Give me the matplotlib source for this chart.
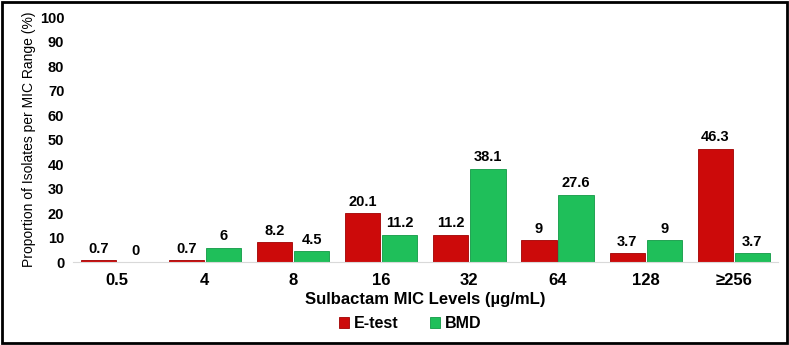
import matplotlib
matplotlib.use("Agg")
from matplotlib import pyplot as plt
from matplotlib.patches import Rectangle
import numpy as np

plt.rcParams['font.family'] = ['Liberation Sans', 'DejaVu Sans']

# MIC levels and percentages
mic_levels = ["0.5", "4", "8", "16", "32", "64", "128", "\u2265256"]
etest = [0.7, 0.7, 8.2, 20.1, 11.2, 9, 3.7, 46.3]
bmd = [0, 6, 4.5, 11.2, 38.1, 27.6, 9, 3.7]
etest_labels = ["0.7", "0.7", "8.2", "20.1", "11.2", "9", "3.7", "46.3"]
bmd_labels = ["0", "6", "4.5", "11.2", "38.1", "27.6", "9", "3.7"]

fig = plt.figure(figsize=(7.89, 3.45), dpi=100)
ax = fig.add_axes([0.092, 0.24, 0.894, 0.71])

x = np.arange(len(mic_levels))
w = 0.4
red = "#cc0a0a"
green = "#1fbf5a"
b1 = ax.bar(x - w/2 - 0.01, etest, w, color=red, edgecolor="#a00000", linewidth=0.6, label="E-test")
b2 = ax.bar(x + w/2 + 0.01, bmd, w, color=green, edgecolor="#119944", linewidth=0.6, label="BMD")

for bars, labs in ((b1, etest_labels), (b2, bmd_labels)):
    for b, t in zip(bars, labs):
        ax.text(b.get_x() + b.get_width()/2, b.get_height() + 1.8, t,
                ha="center", va="bottom", fontsize=10.5, fontweight="bold")

ax.set_ylim(0, 100)
ax.set_xlim(-0.5, len(mic_levels) - 0.5)
ax.set_yticks(range(0, 101, 10))
ax.set_xticks(x)
ax.set_xticklabels(mic_levels)
ax.tick_params(axis="y", length=0, labelsize=10.5, pad=6)
ax.tick_params(axis="x", length=0, labelsize=12, pad=8)
for lab in ax.get_xticklabels() + ax.get_yticklabels():
    lab.set_fontweight("bold")
for s in ("top", "right", "left"):
    ax.spines[s].set_visible(False)
ax.spines["bottom"].set_color("#d9d9d9")

ax.set_ylabel("Proportion of Isolates per MIC Range (%)", fontsize=10, labelpad=3)
ax.set_xlabel("Sulbactam MIC Levels (\u00b5g/mL)", fontsize=12, fontweight="bold", labelpad=3)

leg = fig.legend(handles=[b1, b2], loc="center", bbox_to_anchor=(0.52, 0.062), ncol=2,
                 frameon=False, handlelength=0.6, handleheight=0.6, handletextpad=0.3,
                 columnspacing=2.0, prop={"weight": "bold", "size": 11.5})

fig.patches.append(Rectangle((0.003, 0.005), 0.994, 0.99, transform=fig.transFigure,
                             fill=False, edgecolor="black", linewidth=2))

fig.savefig("out.png", dpi=100)
